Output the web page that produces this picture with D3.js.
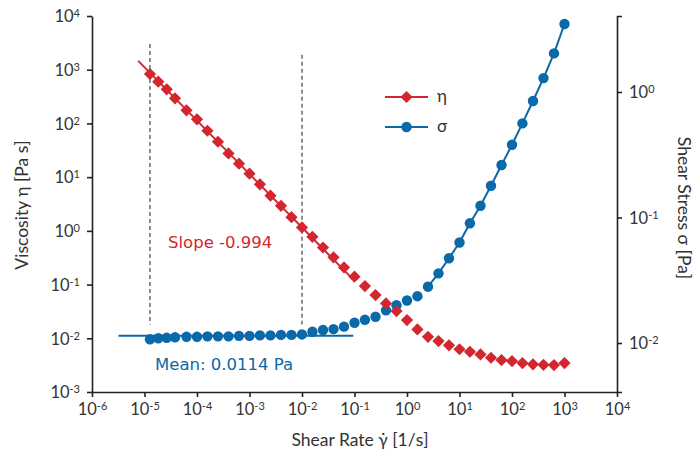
<!DOCTYPE html>
<html lang="en">
<head>
	<meta charset="UTF-8">
	<script src="https://d3js.org/d3.v7.min.js"></script>
	<title>Viscosity and Shear Stress</title>
	<style type="text/css">
		body{ margin: 0; background: #fff; }
		text{ font-family: "Lato", "Noto Sans", sans-serif; }
		.axis path, .axis line{ stroke: #222; stroke-width: 1.6px; }
		.axis text{ fill: #333; font-size: 16.5px; }
		.title{ fill: #333; font-size: 17.5px; }
		.note{ font-family: "DejaVu Sans", sans-serif; font-size: 16.5px; }
	</style>
</head>
<body onload="main()">
	<svg width="694" height="455"></svg>
</body>

	<script>
	// shear rate [1/s]
	var shearRate = [1.27e-5, 1.83e-5, 2.65e-5, 3.81e-5, 6.31e-5, 1.0e-4, 1.58e-4, 2.51e-4, 3.98e-4, 6.31e-4,
		1.0e-3, 1.58e-3, 2.51e-3, 3.98e-3, 6.31e-3, 1.0e-2, 1.58e-2, 2.51e-2, 3.98e-2, 6.31e-2,
		0.1, 0.158, 0.251, 0.398, 0.631, 1.0, 1.58, 2.51, 3.98, 6.31,
		10, 15.8, 25.1, 39.8, 63.1, 100, 158, 251, 398, 631, 1000];
	// viscosity eta [Pa s]
	var viscosity = [832, 598, 432, 293, 175, 119, 73.1, 45.6, 27.7, 17.8,
		11.6, 7.34, 4.51, 2.93, 1.80, 1.16, 0.776, 0.49, 0.321, 0.209,
		0.140, 0.0937, 0.0637, 0.0446, 0.0321, 0.0218, 0.01465, 0.01067, 0.00887, 0.00738,
		0.00625, 0.00561, 0.00501, 0.00434, 0.00393, 0.00376, 0.00345, 0.00327, 0.00321, 0.00317, 0.00345];
	// shear stress sigma [Pa]
	var stress = [0.0107, 0.0109, 0.0110, 0.0111, 0.0112, 0.0112, 0.0113, 0.0113, 0.0113, 0.0114,
		0.0114, 0.0115, 0.0115, 0.0116, 0.0116, 0.0117, 0.0123, 0.0127, 0.0129, 0.0135,
		0.0145, 0.0153, 0.0162, 0.0182, 0.0200, 0.0218, 0.0236, 0.0281, 0.0359, 0.0473,
		0.0632, 0.0900, 0.124, 0.179, 0.262, 0.380, 0.562, 0.848, 1.29, 2.03, 3.48];

	var xTicks = [1e-6, 1e-5, 1e-4, 1e-3, 1e-2, 1e-1, 1e0, 1e1, 1e2, 1e3, 1e4];
	var yTicks = [1e-3, 1e-2, 1e-1, 1e0, 1e1, 1e2, 1e3, 1e4];
	var y2Ticks = [1e-2, 1e-1, 1e0];

	// power law fit on viscosity, mean of stress at low rates
	var slope = -0.994, fitK = 0.0119, fitRange = [7.6e-6, 0.1];
	var meanStress = 0.0114, meanRange = [3.2e-6, 0.095];
	// dashed guides marking the fit window
	var guideX = [1.27e-5, 1e-2], guideTop = [3000, 1900], guideBottom = 0.018;
	var stressLineFrom = 2.51;

	function main() {
		var svg = d3.select("svg");
		var red = "#d4262f", blue = "#0a69a8";
		var left = 92, right = 617, top = 16, bottom = 392;

		var x = d3.scaleLog().domain([1e-6, 1e4]).range([left, right]);
		var y = d3.scaleLog().domain([1e-3, 1e4]).range([bottom, top]);
		var y2 = d3.scaleLog().domain([0.00407, 4.03]).range([bottom, top]);

		var data = shearRate.map(function(r, i) {
			return {rate: r, eta: viscosity[i], sigma: stress[i]};
		});

		function powerLabel(sel) {
			sel.selectAll(".tick text").each(function(d) {
				var t = d3.select(this).text("");
				t.append("tspan").text("10");
				t.append("tspan").attr("dy", "-0.45em").attr("font-size", "11px")
					.text(String(Math.round(Math.log10(d))));
			});
		}

		svg.append("g").attr("class", "axis")
			.attr("transform", "translate(0," + bottom + ")")
			.call(d3.axisBottom(x).tickValues(xTicks).tickSize(5).tickSizeOuter(0).tickPadding(10))
			.call(powerLabel);

		svg.append("g").attr("class", "axis")
			.attr("transform", "translate(" + left + ",0)")
			.call(d3.axisLeft(y).tickValues(yTicks).tickSize(5).tickSizeOuter(0).tickPadding(7))
			.call(powerLabel);

		svg.append("g").attr("class", "axis")
			.attr("transform", "translate(" + right + ",0)")
			.call(d3.axisRight(y2).tickValues(y2Ticks).tickSize(5).tickSizeOuter(5).tickPadding(7))
			.call(powerLabel);

		svg.selectAll(".axis text").attr("dy", "0.5em");
		svg.selectAll(".axis").filter(function(d, i) { return i > 0; })
			.selectAll(".tick text").attr("dy", "0.35em");

		// dashed guides
		svg.selectAll(".guide").data(guideX).enter().append("line")
			.attr("x1", function(d) { return x(d); })
			.attr("x2", function(d) { return x(d); })
			.attr("y1", function(d, i) { return y(guideTop[i]); })
			.attr("y2", y(guideBottom))
			.attr("stroke", "#444").attr("stroke-width", 1.2)
			.attr("stroke-dasharray", "4,3");

		// power law fit line
		svg.append("line")
			.attr("x1", x(fitRange[0])).attr("y1", y(fitK * Math.pow(fitRange[0], slope)))
			.attr("x2", x(fitRange[1])).attr("y2", y(fitK * Math.pow(fitRange[1], slope)))
			.attr("stroke", red).attr("stroke-width", 2);

		// mean stress line
		svg.append("line")
			.attr("x1", x(meanRange[0])).attr("y1", y2(meanStress))
			.attr("x2", x(meanRange[1])).attr("y2", y2(meanStress))
			.attr("stroke", blue).attr("stroke-width", 2);

		// stress line at high rates
		var stressLine = d3.line()
			.x(function(d) { return x(d.rate); })
			.y(function(d) { return y2(d.sigma); });
		svg.append("path")
			.datum(data.filter(function(d) { return d.rate >= stressLineFrom; }))
			.attr("d", stressLine)
			.attr("fill", "none").attr("stroke", blue).attr("stroke-width", 2);

		var diamond = d3.symbol().type(d3.symbolDiamond2).size(95);

		svg.selectAll(".dot").data(data).enter().append("circle")
			.attr("class", "dot")
			.attr("cx", function(d) { return x(d.rate); })
			.attr("cy", function(d) { return y2(d.sigma); })
			.attr("r", 5.2)
			.attr("fill", blue);

		svg.selectAll(".dia").data(data).enter().append("path")
			.attr("class", "dia")
			.attr("transform", function(d) { return "translate(" + x(d.rate) + "," + y(d.eta) + ")"; })
			.attr("d", diamond)
			.attr("fill", red);

		// annotations
		svg.append("text").attr("class", "note").attr("x", 168).attr("y", 248)
			.attr("fill", red)
			.text("Slope " + slope.toFixed(3));
		svg.append("text").attr("class", "note").attr("x", 155).attr("y", 370)
			.attr("fill", blue)
			.text("Mean: " + meanStress + " Pa");

		// legend
		var legend = svg.append("g").attr("transform", "translate(385,97)");
		legend.append("line").attr("x1", 0).attr("x2", 43).attr("stroke", red).attr("stroke-width", 2);
		legend.append("path").attr("transform", "translate(21.5,0)").attr("d", diamond).attr("fill", red);
		legend.append("text").attr("x", 52).attr("y", 5).attr("fill", "#333").attr("font-size", "17px").text("η");
		legend.append("line").attr("x1", 0).attr("x2", 43).attr("y1", 30).attr("y2", 30).attr("stroke", blue).attr("stroke-width", 2);
		legend.append("circle").attr("cx", 21.5).attr("cy", 30).attr("r", 5.2).attr("fill", blue);
		legend.append("text").attr("x", 52).attr("y", 35).attr("fill", "#333").attr("font-size", "17px").text("σ");

		// axis titles
		svg.append("text").attr("class", "title")
			.attr("transform", "translate(28,205) rotate(-90)")
			.attr("text-anchor", "middle").text("Viscosity η [Pa s]");
		svg.append("text").attr("class", "title")
			.attr("transform", "translate(678,208) rotate(90)")
			.attr("text-anchor", "middle").text("Shear Stress σ [Pa]");
		svg.append("text").attr("class", "title")
			.attr("x", 360).attr("y", 446)
			.attr("font-size", "18px")
			.attr("text-anchor", "middle").text("Shear Rate γ̇ [1/s]");
	}
	</script>
</html>
